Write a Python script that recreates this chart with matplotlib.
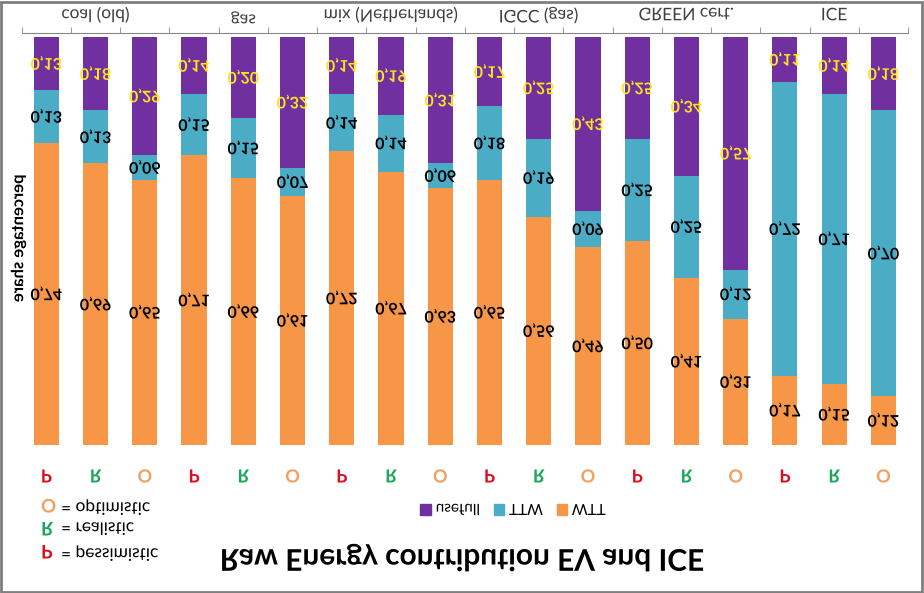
import matplotlib
matplotlib.use("Agg")
import matplotlib.pyplot as plt
from matplotlib.patheffects import AbstractPathEffect
from matplotlib.transforms import Affine2D, blended_transform_factory
from matplotlib.patches import Rectangle, Patch

groups = ["coal (old)", "gas", "mix (Netherlands)", "IGCC (gas)", "GREEN cert.", "ICE"]
scenarios = ["P", "R", "O"]
usefull = [0.13, 0.18, 0.29, 0.14, 0.20, 0.32, 0.14, 0.19, 0.31,
           0.17, 0.25, 0.43, 0.25, 0.34, 0.57, 0.11, 0.14, 0.18]
ttw = [0.13, 0.13, 0.06, 0.15, 0.15, 0.07, 0.14, 0.14, 0.06,
       0.18, 0.19, 0.09, 0.25, 0.25, 0.12, 0.72, 0.71, 0.70]
wtt = [0.74, 0.69, 0.65, 0.71, 0.66, 0.61, 0.72, 0.67, 0.63,
       0.65, 0.56, 0.49, 0.50, 0.41, 0.31, 0.17, 0.15, 0.12]

scen_names = {"P": "pessimistic", "R": "realistic", "O": "optimistic"}
scen_colors = {"P": "#D9101E", "R": "#1AA85A", "O": "#F0A060"}
c_use, c_ttw, c_wtt = "#7030A0", "#4BACC6", "#F79646"


class FlipVertical(AbstractPathEffect):
    # mirror every drawn path upside down around its own centre
    def draw_path(self, renderer, gc, tpath, affine, rgbFace=None):
        box = tpath.get_extents(affine)
        cy = (box.y0 + box.y1) / 2
        flip = affine + Affine2D().translate(0, -cy).scale(1, -1).translate(0, cy)
        renderer.draw_path(gc, tpath, flip, rgbFace)


plt.rcParams['font.family'] = ['Lato', 'DejaVu Sans']
plt.rcParams['path.effects'] = [FlipVertical()]

W, H = 924, 593
fig = plt.figure(figsize=(W / 100, H / 100), dpi=100)
ax = fig.add_axes([21.7 / W, 1 - 445 / H, (908 - 21.7) / W, (445 - 33) / H])

n = len(usefull)
xs = list(range(n))
totals = [u + t + w for u, t, w in zip(usefull, ttw, wtt)]
s_wtt = [w / s for w, s in zip(wtt, totals)]
s_ttw = [t / s for t, s in zip(ttw, totals)]
s_use = [u / s for u, s in zip(usefull, totals)]
base2 = [a + b for a, b in zip(s_wtt, s_ttw)]

ax.bar(xs, s_wtt, width=0.51, color=c_wtt)
ax.bar(xs, s_ttw, width=0.51, bottom=s_wtt, color=c_ttw)
ax.bar(xs, s_use, width=0.51, bottom=base2, color=c_use)


def fmt(v):
    return f"{v:.2f}".replace(".", ",")


for i in xs:
    ax.text(i, s_wtt[i] / 2, fmt(wtt[i]), ha='center', va='center',
            fontsize=11.5, fontweight='bold', color='black')
    ax.text(i, s_wtt[i] + s_ttw[i] / 2, fmt(ttw[i]), ha='center', va='center',
            fontsize=11.5, fontweight='bold', color='black')
    ax.text(i, base2[i] + s_use[i] / 2, fmt(usefull[i]), ha='center', va='center',
            fontsize=11.5, fontweight='bold', color='#FFE21F')

ax.set_xlim(-0.5, n - 0.5)
ax.set_ylim(0, 1.0098)
for side in ['left', 'right', 'bottom']:
    ax.spines[side].set_visible(False)
ax.spines['top'].set_color('#868686')
ax.set_yticks([])
ax.xaxis.tick_top()
ax.set_xticks([3 * g + 1 for g in range(len(groups))])
ax.set_xticklabels(groups, fontsize=12.5, color='#404040')
ax.set_xticks([k - 0.5 for k in range(n + 1)], minor=True)
ax.tick_params(axis='x', which='major', length=0, pad=7)
ax.tick_params(axis='x', which='minor', length=4, color='#868686', direction='out')

ax.set_ylabel("percentage share", fontsize=12, fontweight='bold')
ax.yaxis.set_label_coords(0.005, 0.5)

# scenario letters under each bar
trans = blended_transform_factory(ax.transData, fig.transFigure)
for i in xs:
    s = scenarios[i % 3]
    ax.text(i, 1 - 477 / H, s, transform=trans, ha='center', va='center',
            fontsize=13, fontweight='bold', color=scen_colors[s])

# scenario key
for k, s in enumerate(["O", "R", "P"]):
    y = 1 - (507 + 23 * k) / H
    fig.text(41 / W, y, s, ha='left', va='center', fontsize=13.5,
             fontweight='bold', color=scen_colors[s])
    fig.text(61 / W, y, "= " + scen_names[s], ha='left', va='center',
             fontsize=12.5, color='black')

handles = [Patch(color=c_use, label='usefull'), Patch(color=c_ttw, label='TTW'),
           Patch(color=c_wtt, label='WTT')]
fig.legend(handles=handles, loc='center', bbox_to_anchor=(513 / W, 1 - 511 / H),
           ncol=3, frameon=False, fontsize=11, handlelength=0.7,
           handleheight=0.7, handletextpad=0.3, columnspacing=0.9)

fig.text(462 / W, 1 - 557 / H, "Raw Energy contribution EV and ICE", ha='center',
         va='center', fontsize=21.5, fontweight='bold')

fig.add_artist(Rectangle((0.001, 0.002), 0.997, 0.995, transform=fig.transFigure,
                         fill=False, edgecolor='#7f7f7f', lw=2))

fig.savefig("out.png", dpi=100)
